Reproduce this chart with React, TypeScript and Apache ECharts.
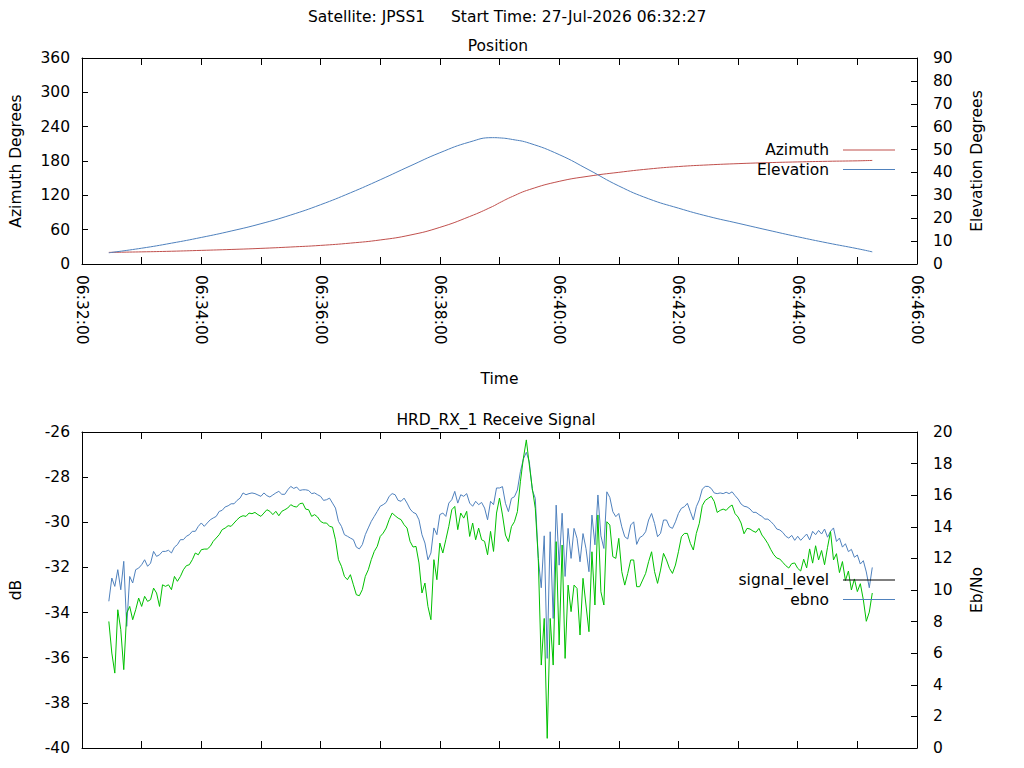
import { useEffect, useRef } from 'react';
import * as echarts from 'echarts';

const FONT = 'DejaVu Sans';
const FS = 15.5;
const RED = '#c0504d';
const BLUE = '#4f81bd';
const GREEN = '#00c000';

// x axis runs from 06:32:00 to 06:46:00
const T0 = Date.UTC(2026, 6, 27, 6, 32, 0);
const SPAN_MINUTES = 14;

// position track, seconds after 06:32:00
const POSITION_SECONDS = [27, 60, 90, 120, 150, 180, 210, 240, 270, 300, 330, 360, 390, 413, 420, 433, 450, 480, 510, 540, 570, 600, 630, 660, 690, 720, 750, 780, 795];
const AZIMUTH_DEG = [20.3, 21.2, 22.3, 23.8, 25.4, 27.3, 29.7, 32.5, 36.5, 42.0, 50.5, 64.0, 83.0, 100.5, 107.0, 118.0, 130.0, 144.4, 153.5, 160.2, 166.0, 170.3, 173.2, 175.4, 177.1, 178.4, 179.5, 180.3, 181.0];
const ELEVATION_DEG = [4.9, 6.9, 9.1, 11.6, 14.4, 17.6, 21.4, 25.9, 31.1, 36.8, 42.8, 48.6, 53.3, 55.2, 55.1, 54.4, 52.8, 47.8, 41.1, 34.1, 28.5, 24.4, 20.8, 17.8, 14.8, 11.9, 9.2, 6.7, 5.3];

// receiver samples: first at 06:32:27, one every 3 s
const SIGNAL_START_SECONDS = 27;
const SIGNAL_STEP_SECONDS = 3;
const SIGNAL_LEVEL_DB = [
  -33.50, -32.47, -32.84, -32.10, -32.99, -31.73, -34.61, -32.40, -32.69, -32.10,
  -32.03, -31.88, -31.66, -31.95, -31.81, -31.29, -31.51, -31.44, -31.29, -31.29,
  -31.24, -31.36, -31.10, -30.99, -30.77, -30.77, -30.62, -30.55, -30.40, -30.40,
  -30.18, -30.03, -30.18, -30.03, -29.89, -29.81, -29.74, -29.52, -29.47, -29.32,
  -29.27, -29.18, -29.18, -29.03, -28.93, -28.70, -28.78, -28.73, -28.70, -28.73,
  -28.79, -28.85, -28.70, -28.82, -28.88, -28.79, -28.70, -28.63, -28.76, -28.76,
  -28.56, -28.41, -28.50, -28.44, -28.59,
  -28.56, -28.56, -28.59, -28.73, -28.70, -28.78, -28.85, -29.03, -29.00, -28.93,
  -29.15, -29.37, -29.96, -30.18, -30.55, -30.62, -30.70, -30.77, -31.10, -31.18,
  -30.99, -30.55, -30.25, -29.96, -29.74, -29.52, -29.29, -29.22, -29.12, -28.85,
  -28.73, -28.78, -29.03, -29.07, -28.93, -29.15, -29.41, -29.56, -29.62, -29.89,
  -30.55, -30.92, -31.66, -31.36, -30.25, -30.55, -29.66, -29.59, -29.74, -29.15,
  -29.00, -28.63, -29.15, -28.78, -28.85, -28.73, -29.15, -29.29, -29.07, -29.22,
  -29.12, -29.37, -29.89, -29.07, -29.22, -28.48, -28.48,
  -28.42, -29.16, -29.53, -28.94, -28.87, -28.57, -27.76, -27.20, -26.90, -27.32,
  -28.57, -28.94, -31.60, -32.90, -30.60, -36.03, -30.42, -34.26, -29.24, -31.90,
  -29.60, -32.40, -30.27, -31.60, -30.27, -30.71, -31.75, -30.50, -31.16, -32.19,
  -29.68, -31.00, -28.79, -30.60, -31.16, -28.65, -28.90, -29.53, -29.75, -29.61,
  -30.20, -30.64, -30.74, -30.12, -29.98, -30.98, -30.68, -30.60, -30.42, -29.90,
  -29.61, -30.05, -30.64, -30.49, -29.90, -29.90, -30.20, -30.27, -29.98, -29.61,
  -29.38, -29.31, -29.16, -29.53, -29.90, -29.31, -29.01,
  -28.53, -28.41, -28.41, -28.50, -28.70, -28.73, -28.70, -28.73, -28.67, -28.73,
  -28.65, -28.82, -28.97, -29.19, -29.29, -29.32, -29.41, -29.56, -29.56, -29.66,
  -29.74, -29.86, -29.86, -29.97, -30.11, -30.30, -30.34, -30.45, -30.62, -30.70,
  -30.58, -30.80, -30.62, -30.80, -30.66, -30.52, -30.78, -30.40, -30.55, -30.36,
  -30.52, -30.30, -30.66, -30.40, -30.25, -30.85, -30.70, -31.10, -30.95, -31.30,
  -31.20, -31.55, -31.45, -31.85, -31.70, -32.20, -32.90, -32.00,
];
const EBNO = [
  8.01, 6.01, 4.74, 8.75, 7.49, 4.96, 8.54, 8.96, 8.12, 8.75,
  9.49, 8.96, 9.60, 9.28, 9.39, 10.12, 9.81, 8.96, 10.33, 10.23,
  10.33, 10.02, 10.86, 10.55, 10.86, 11.28, 11.54, 11.60, 11.92, 12.34,
  12.23, 12.55, 12.59, 12.59, 12.76, 13.08, 13.29, 13.50, 13.82, 13.92,
  14.07, 14.03, 14.24, 14.45, 14.62, 14.70, 14.66, 14.87, 14.83, 14.91,
  14.77, 14.66, 14.87, 15.08, 14.98, 14.77, 14.98, 14.70, 14.98, 15.08,
  15.19, 15.40, 15.29, 15.25, 15.46,
  15.50, 15.12, 15.08, 14.66, 14.77, 14.62, 14.34, 14.24, 14.24, 14.03,
  13.98, 13.18, 11.92, 11.50, 10.86, 10.65, 10.97, 10.33, 9.70, 9.64,
  10.02, 10.86, 11.28, 11.92, 12.44, 12.76, 13.39, 13.60, 13.92, 14.45,
  14.87, 14.70, 14.55, 14.45, 14.13, 13.92, 13.08, 12.72, 12.76, 11.71,
  9.81, 10.44, 8.96, 8.12, 11.92, 10.65, 12.97, 12.34, 13.18, 14.03,
  15.08, 15.29, 13.82, 14.87, 14.55, 14.98, 13.39, 14.24, 13.18, 13.92,
  13.18, 13.08, 12.23, 13.71, 12.44, 14.87, 15.82,
  14.75, 13.48, 13.06, 14.01, 14.32, 14.96, 16.85, 18.33, 19.50, 17.91,
  16.43, 15.17, 12.00, 5.25, 8.20, 0.61, 8.20, 5.25, 13.06, 6.52,
  12.85, 5.67, 10.31, 8.63, 10.31, 10.10, 7.15, 10.74, 9.05, 7.36,
  12.42, 9.05, 14.75, 9.89, 9.05, 14.32, 14.11, 12.11, 12.00, 13.27,
  11.16, 10.31, 11.05, 11.90, 11.90, 10.21, 10.21, 10.63, 11.05, 11.79,
  12.42, 11.16, 10.42, 11.26, 12.32, 11.90, 11.37, 11.05, 11.58, 12.42,
  13.37, 13.58, 13.58, 12.95, 12.53, 13.58, 14.22,
  15.34, 15.67, 15.80, 15.93, 15.61, 14.91, 15.04, 15.12, 15.04, 15.25,
  15.38, 14.83, 14.62, 14.24, 13.56, 13.90, 13.86, 13.73, 13.65, 13.90,
  13.48, 13.23, 12.93, 12.55, 12.23, 12.02, 11.96, 11.75, 11.54, 11.39,
  11.67, 11.71, 11.37, 11.20, 11.95, 11.40, 12.60, 11.70, 12.80, 11.90,
  12.50, 11.60, 12.70, 13.70, 11.90, 12.30, 11.10, 11.80, 10.60, 11.20,
  10.00, 10.70, 9.90, 10.40, 9.39, 8.02, 8.60, 9.81,
];

const pad = (n: number) => String(n).padStart(2, '0');
const hms = (v: number) => {
  const d = new Date(v);
  return `${pad(d.getUTCHours())}:${pad(d.getUTCMinutes())}:${pad(d.getUTCSeconds())}`;
};

const text = { color: '#000', fontFamily: FONT, fontSize: FS };

function timeAxis(gridIndex: number, position: 'top' | 'bottom', withLabels: boolean) {
  return {
    type: 'value',
    gridIndex,
    position,
    min: T0,
    max: T0 + SPAN_MINUTES * 60000,
    interval: 60000,
    axisLine: { show: true, onZero: false, lineStyle: { color: '#000', width: 1 } },
    axisTick: { show: true, inside: true, length: 7, lineStyle: { color: '#000' } },
    axisLabel: withLabels
      ? {
          ...text,
          rotate: -90,
          margin: 11,
          formatter: (v: number) => (Math.round((v - T0) / 60000) % 2 === 0 ? hms(v) : ''),
        }
      : { show: false },
    splitLine: { show: false },
    ...(withLabels
      ? { name: 'Time', nameLocation: 'middle', nameGap: 107, nameTextStyle: text }
      : {}),
  };
}

function valueAxis(
  gridIndex: number,
  position: 'left' | 'right',
  min: number,
  max: number,
  interval: number,
  name: string,
  nameGap: number,
) {
  return {
    type: 'value',
    gridIndex,
    position,
    min,
    max,
    interval,
    name,
    nameLocation: 'middle',
    nameGap,
    nameRotate: 90,
    nameTextStyle: text,
    axisLine: { show: true, onZero: false, lineStyle: { color: '#000', width: 1 } },
    axisTick: { show: true, inside: true, length: 6, lineStyle: { color: '#000' } },
    axisLabel: { ...text, margin: position === 'left' ? 12 : 16 },
    splitLine: { show: false },
  };
}

function lineSeries(name: string, xAxisIndex: number, yAxisIndex: number, color: string, data: number[][], smooth: boolean) {
  return {
    name,
    type: 'line',
    xAxisIndex,
    yAxisIndex,
    data,
    symbol: 'none',
    smooth,
    silent: true,
    lineStyle: { color, width: 1 },
    itemStyle: { color },
  };
}

// gnuplot-style key: plain line sample to the right of right-aligned text
const legendBase = {
  orient: 'vertical',
  align: 'right',
  right: 129,
  icon: 'rect',
  itemWidth: 52,
  itemHeight: 1,
  itemGap: 3.5,
  padding: 0,
  selectedMode: false,
  textStyle: { ...text, padding: [0, 9, 0, 0] },
};

export default function App() {
  const ref = useRef<HTMLDivElement>(null);

  useEffect(() => {
    if (!ref.current) return;
    const chart = echarts.init(ref.current, undefined, { renderer: 'svg' });

    const position = POSITION_SECONDS.map((s) => T0 + s * 1000);
    const signalTime = SIGNAL_LEVEL_DB.map((_, i) => T0 + (SIGNAL_START_SECONDS + i * SIGNAL_STEP_SECONDS) * 1000);

    chart.setOption({
      animation: false,
      backgroundColor: '#fff',
      textStyle: { fontFamily: FONT },
      graphic: [
        { type: 'text', x: 308, y: 17, style: { text: 'Satellite: JPSS1', fontFamily: FONT, fontSize: FS, fill: '#000', align: 'left', verticalAlign: 'middle' } },
        { type: 'text', x: 451, y: 17, style: { text: 'Start Time: 27-Jul-2026 06:32:27', fontFamily: FONT, fontSize: FS, fill: '#000', align: 'left', verticalAlign: 'middle' } },
        { type: 'text', x: 498, y: 46, style: { text: 'Position', fontFamily: FONT, fontSize: FS, fill: '#000', align: 'center', verticalAlign: 'middle' } },
        { type: 'text', x: 496, y: 420, style: { text: 'HRD_RX_1 Receive Signal', fontFamily: FONT, fontSize: FS, fill: '#000', align: 'center', verticalAlign: 'middle' } },
      ],
      grid: [
        { left: 79, top: 58, width: 838, height: 206 },
        { left: 79, top: 432, width: 838, height: 316 },
      ],
      xAxis: [
        timeAxis(0, 'bottom', true),
        timeAxis(0, 'top', false),
        timeAxis(1, 'bottom', false),
        timeAxis(1, 'top', false),
      ],
      yAxis: [
        valueAxis(0, 'left', 0, 360, 60, 'Azimuth Degrees', 58),
        valueAxis(0, 'right', 0, 90, 10, 'Elevation Degrees', 52),
        valueAxis(1, 'left', -40, -26, 2, 'dB', 58),
        valueAxis(1, 'right', 0, 20, 2, 'Eb/No', 52),
      ],
      legend: [
        { ...legendBase, top: 142, data: ['Azimuth', 'Elevation'] },
        {
          ...legendBase,
          top: 572,
          data: [
            { name: 'signal_level', itemStyle: { color: '#000' } },
            { name: 'ebno', itemStyle: { color: BLUE } },
          ],
        },
      ],
      series: [
        lineSeries('Azimuth', 0, 0, RED, position.map((t, i) => [t, AZIMUTH_DEG[i]]), true),
        lineSeries('Elevation', 0, 1, BLUE, position.map((t, i) => [t, ELEVATION_DEG[i]]), true),
        lineSeries('signal_level', 2, 2, BLUE, signalTime.map((t, i) => [t, SIGNAL_LEVEL_DB[i]]), false),
        lineSeries('ebno', 2, 3, GREEN, signalTime.map((t, i) => [t, EBNO[i]]), false),
      ],
    });

    return () => chart.dispose();
  }, []);

  return (
    <div
      ref={ref}
      style={{ position: 'fixed', left: 0, top: 0, width: 1024, height: 768, background: '#fff' }}
    />
  );
}
